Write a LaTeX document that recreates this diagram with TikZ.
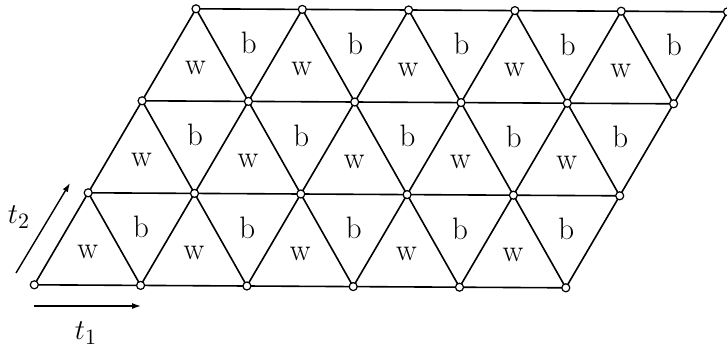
\documentclass[tikz,border=0pt]{standalone}
\usepackage{fontspec}
\usetikzlibrary{arrows.meta}
\begin{document}
\begin{tikzpicture}[x=0.5pt,y=-0.5pt,
  edge/.style={line width=0.8pt},
  vtx/.style={circle,draw,fill=white,line width=0.6pt,inner sep=0pt,minimum size=4pt},
  lab/.style={font=\fontsize{15.5}{18}\selectfont, inner sep=0pt},
  vec/.style={line width=0.7pt,-{Latex[length=4.5pt,width=3pt]}}]
\useasboundingbox (0,0) rectangle (727,348);
\foreach \i in {0,...,5}{\foreach \j in {0,...,3}{
  \coordinate (p-\i-\j) at ({34.3+106.3*\i+53.9*\j},{284.8+0.6*\i-92*\j});}}
% horizontal lines
\foreach \j in {0,...,3}{\draw[edge] (p-0-\j) -- (p-5-\j);}
% lines along t2
\foreach \i in {0,...,5}{\draw[edge] (p-\i-0) -- (p-\i-3);}
% other diagonals
\foreach \s in {1,...,7}{
  \pgfmathtruncatemacro\ia{min(\s,5)}
  \pgfmathtruncatemacro\ja{\s-\ia}
  \pgfmathtruncatemacro\ib{max(0,\s-3)}
  \pgfmathtruncatemacro\jb{\s-\ib}
  \draw[edge] (p-\ia-\ja) -- (p-\ib-\jb);}
% labels
\foreach \i in {0,...,4}{\foreach \j in {0,1,2}{
  \pgfmathtruncatemacro\ii{\i+1}
  \pgfmathtruncatemacro\jj{\j+1}
  \node[lab,yshift=1pt] (w-\i-\j) at (barycentric cs:p-\i-\j=1,p-\ii-\j=1,p-\i-\jj=1) {w};
  \node[lab,yshift=-1.5pt] (b-\i-\j) at (barycentric cs:p-\ii-\j=1,p-\ii-\jj=1,p-\i-\jj=1) {b};}}
% vertices
\foreach \i in {0,...,5}{\foreach \j in {0,...,3}{
  \node[vtx] (v-\i-\j) at (p-\i-\j) {};}}
% basis vectors
\coordinate (a1) at (34.3,306);
\coordinate (b1) at (141,306);
\draw[vec] (a1) -- (b1);
\coordinate (a2) at (16,273);
\coordinate (b2) at (70,183);
\draw[vec] (a2) -- (b2);
\node[lab] (t1) at (86,333) {$t_1$};
\node[lab] (t2) at (19,217) {$t_2$};
\end{tikzpicture}
\end{document}
